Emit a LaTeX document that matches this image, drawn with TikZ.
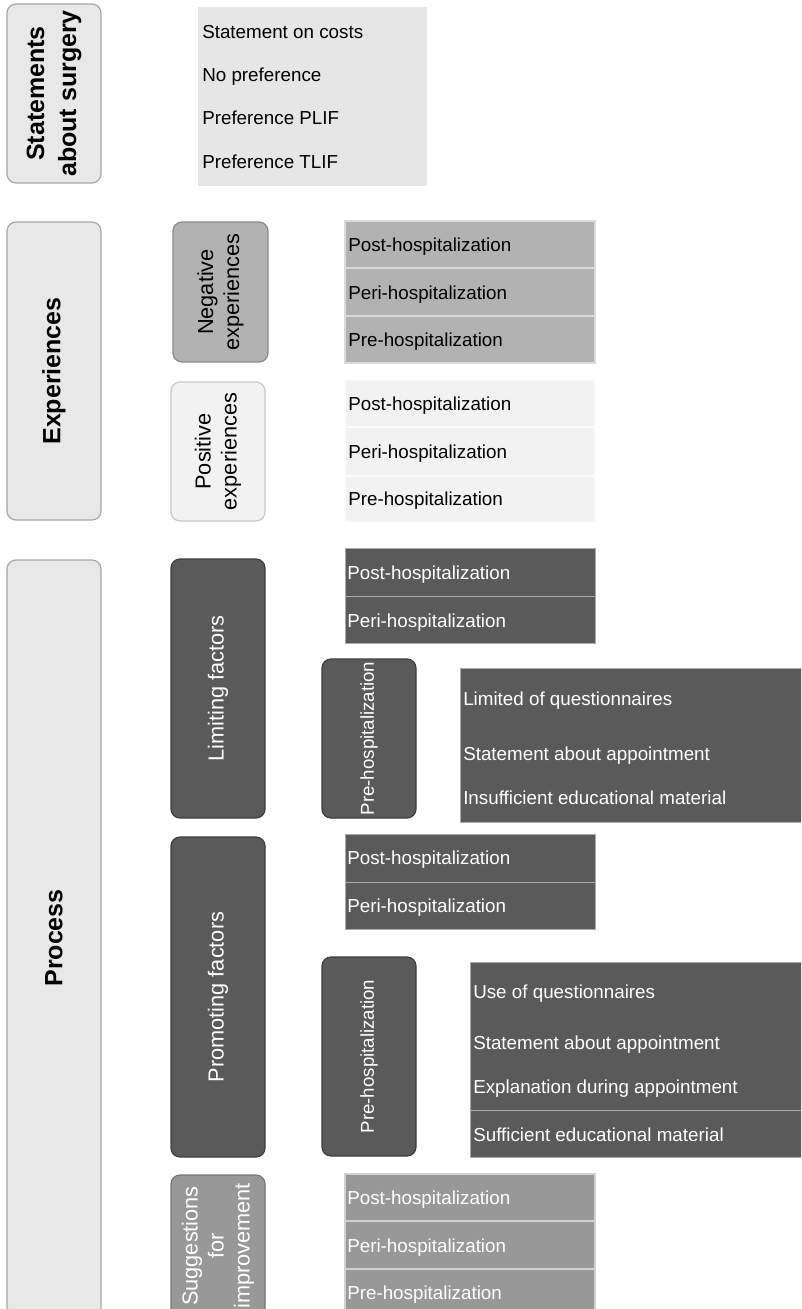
\documentclass[tikz,border=0pt]{standalone}
\usepackage{fontspec}
\setmainfont{Liberation Sans}
\usetikzlibrary{fit}
\definecolor{catfill}{HTML}{E8E8E8}
\definecolor{catdraw}{HTML}{A8A8A8}
\definecolor{stmtfill}{HTML}{E6E6E6}
\definecolor{negfill}{HTML}{B2B2B2}
\definecolor{negdraw}{HTML}{8A8A8A}
\definecolor{negsep}{HTML}{DADADA}
\definecolor{posfill}{HTML}{F2F2F2}
\definecolor{posdraw}{HTML}{C8C8C8}
\definecolor{possep}{HTML}{FBFBFB}
\definecolor{darkfill}{HTML}{5A5A5A}
\definecolor{darkdraw}{HTML}{3E3E3E}
\definecolor{darksep}{HTML}{ABABAB}
\definecolor{sugfill}{HTML}{989898}
\definecolor{sugdraw}{HTML}{777777}
\definecolor{sugsep}{HTML}{D0D0D0}
\newcommand\itemfont{\fontsize{14.1pt}{17pt}\selectfont}
\newcommand\labfont{\fontsize{16.3pt}{19.5pt}\selectfont}
\newcommand\prefont{\fontsize{14pt}{17pt}\selectfont}
\newcommand\catfont{\fontsize{18.75pt}{24pt}\selectfont\bfseries}
\begin{document}
\begin{tikzpicture}[x=0.75pt,y=-0.75pt,
  shp/.style={rectangle,inner sep=0pt,outer sep=0pt},
  rbox/.style={shp,rounded corners=6.75pt,line width=0.9pt},
  catbox/.style={rbox,fill=catfill,draw=catdraw},
  negbox/.style={rbox,fill=negfill,draw=negdraw},
  posbox/.style={rbox,fill=posfill,draw=posdraw},
  darkbox/.style={rbox,fill=darkfill,draw=darkdraw},
  sugbox/.style={rbox,fill=sugfill,draw=sugdraw},
  stmtlist/.style={shp,fill=stmtfill},
  negrow/.style={shp,fill=negfill,draw=negsep,line width=0.9pt},
  posrow/.style={shp,fill=posfill,draw=possep,line width=0.9pt},
  darkrow/.style={shp,fill=darkfill,draw=darksep,line width=0.75pt},
  sugrow/.style={shp,fill=sugfill,draw=sugsep,line width=0.9pt},
  itemtext/.style={inner sep=0pt,anchor=base west,font=\itemfont},
  whitetext/.style={itemtext,text=white},
  cattext/.style={inner sep=0pt,rotate=90,align=center,font=\catfont},
  labtext/.style={inner sep=0pt,rotate=90,align=center,font=\labfont},
  pretext/.style={inner sep=0pt,rotate=90,font=\prefont,text=white}
]
\useasboundingbox (0,0) rectangle (801,1309);
\clip (0,0) rectangle (801,1309);
\fill[white] (0,0) rectangle (801,1309);

% ---- Statements about surgery
\node[catbox,fit={(7,4) (101,183)}] (stmt) {};
\node[cattext] (stmtT) at (stmt.center) {Statements\\about surgery};
\node[stmtlist,fit={(198,7) (427,186)}] (stmtL) {};
\node[itemtext] (s1) at (202,38.5) {Statement on costs};
\node[itemtext] (s2) at (202,81.7) {No preference};
\node[itemtext] (s3) at (202,124.7) {Preference PLIF};
\node[itemtext] (s4) at (202,168.7) {Preference TLIF};

% ---- Experiences
\node[catbox,fit={(7,222) (101,520)}] (exp) {};
\node[cattext] (expT) at (exp.center) {Experiences};

\node[negbox,fit={(173,222) (268,362)}] (neg) {};
\node[labtext] (negT) at (neg.center) {Negative\\experiences};
\node[negrow,fit={(345,221) (595,268)}] (neg1) {};
\node[negrow,fit={(345,268) (595,316)}] (neg2) {};
\node[negrow,fit={(345,316) (595,363)}] (neg3) {};
\node[itemtext] (neg1t) at (348,251.7) {Post-hospitalization};
\node[itemtext] (neg2t) at (348,299.7) {Peri-hospitalization};
\node[itemtext] (neg3t) at (348,346.7) {Pre-hospitalization};

\node[posbox,fit={(171,382) (265,521)}] (pos) {};
\node[labtext] (posT) at (pos.center) {Positive\\experiences};
\node[posrow,fit={(345,380) (595,427)}] (pos1) {};
\node[posrow,fit={(345,427) (595,476)}] (pos2) {};
\node[posrow,fit={(345,476) (595,522)}] (pos3) {};
\node[itemtext] (pos1t) at (348,410.7) {Post-hospitalization};
\node[itemtext] (pos2t) at (348,458.7) {Peri-hospitalization};
\node[itemtext] (pos3t) at (348,505.7) {Pre-hospitalization};

% ---- Process
\node[catbox,fit={(7,560) (101,1316)}] (proc) {};
\node[cattext] (procT) at (proc.center) {Process};

% Limiting factors
\node[darkbox,fit={(171,559) (265,818)}] (lim) {};
\node[labtext,text=white] (limT) at (lim.center) {Limiting factors};
\node[darkrow,fit={(345,548) (595,596)}] (lim1) {};
\node[darkrow,fit={(345,596) (595,643)}] (lim2) {};
\node[whitetext] (lim1t) at (347,579.7) {Post-hospitalization};
\node[whitetext] (lim2t) at (347,627.7) {Peri-hospitalization};
\node[darkbox,fit={(322,659) (416,818)}] (limpre) {};
\node[pretext] (limpreT) at (limpre.center) {Pre-hospitalization};
\node[darkrow,fit={(460,668) (806,822)}] (limL) {};
\node[whitetext] (l1) at (463,705.7) {Limited of questionnaires};
\node[whitetext] (l2) at (463,760.7) {Statement about appointment};
\node[whitetext] (l3) at (463,804.7) {Insufficient educational material};

% Promoting factors
\node[darkbox,fit={(171,837) (265,1157)}] (prom) {};
\node[labtext,text=white] (promT) at (prom.center) {Promoting factors};
\node[darkrow,fit={(345,834) (595,882)}] (prom1) {};
\node[darkrow,fit={(345,882) (595,929)}] (prom2) {};
\node[whitetext] (prom1t) at (347,864.7) {Post-hospitalization};
\node[whitetext] (prom2t) at (347,912.7) {Peri-hospitalization};
\node[darkbox,fit={(322,957) (416,1156)}] (prompre) {};
\node[pretext] (prompreT) at (prompre.center) {Pre-hospitalization};
\node[darkrow,fit={(470,962) (806,1110)}] (promLa) {};
\node[darkrow,fit={(470,1110) (806,1157)}] (promLb) {};
\node[whitetext] (p1) at (473,998.7) {Use of questionnaires};
\node[whitetext] (p2) at (473,1049.7) {Statement about appointment};
\node[whitetext] (p3) at (473,1093.7) {Explanation during appointment};
\node[whitetext] (p4) at (473,1141.7) {Sufficient educational material};

% Suggestions for improvement
\node[sugbox,fit={(171,1175) (265,1317)}] (sug) {};
\node[labtext,text=white] (sugT) at (sug.center) {Suggestions\\for\\improvement};
\node[sugrow,fit={(345,1174) (595,1221)}] (sug1) {};
\node[sugrow,fit={(345,1221) (595,1269)}] (sug2) {};
\node[sugrow,fit={(345,1269) (595,1317)}] (sug3) {};
\node[whitetext] (sug1t) at (347,1204.7) {Post-hospitalization};
\node[whitetext] (sug2t) at (347,1252.7) {Peri-hospitalization};
\node[whitetext] (sug3t) at (347,1299.7) {Pre-hospitalization};
\end{tikzpicture}
\end{document}
